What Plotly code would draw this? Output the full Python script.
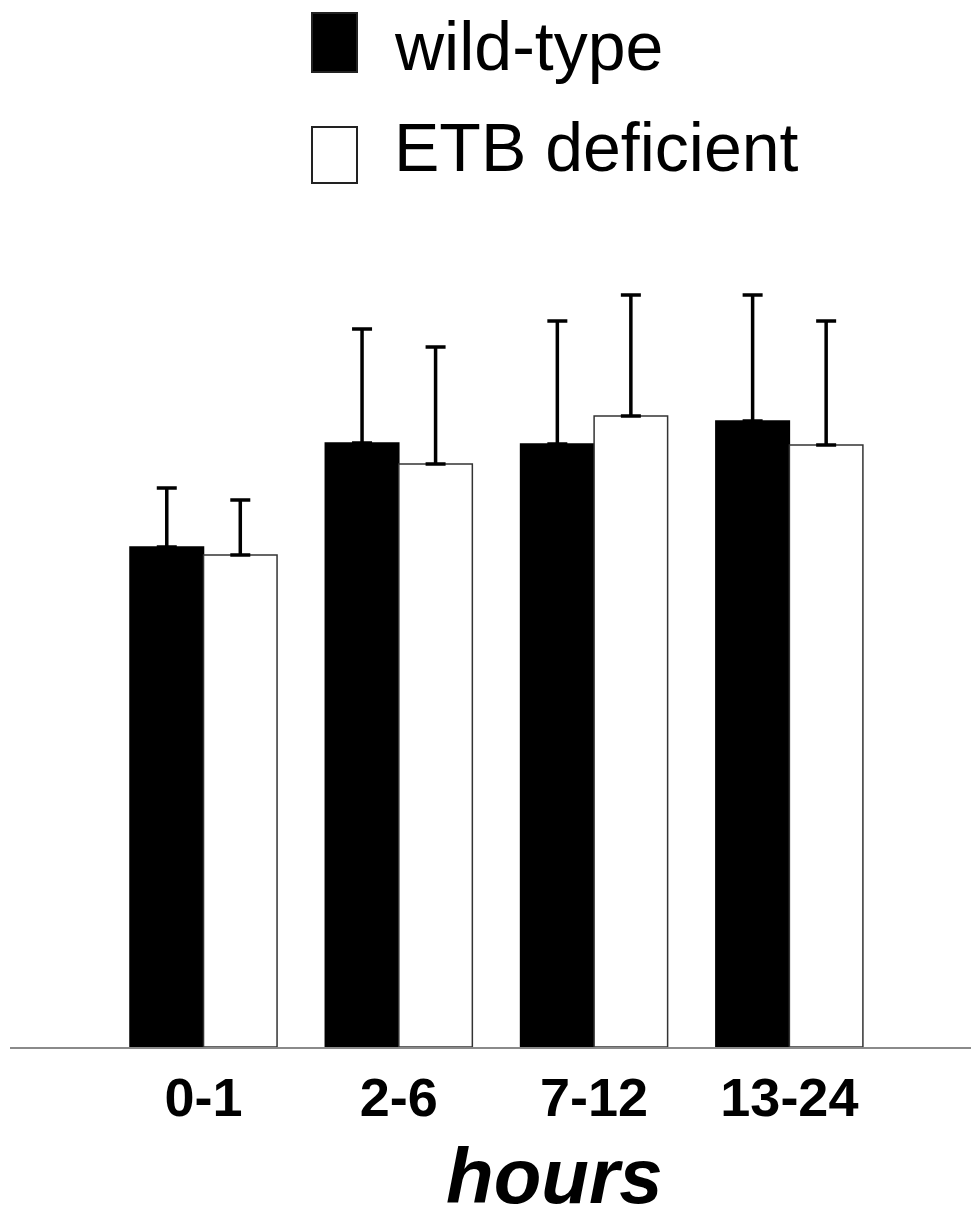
import plotly.graph_objects as go

categories = ["0-1", "2-6", "7-12", "13-24"]
series_names = ["wild-type", "ETB deficient"]
wild_type = [5.00, 6.04, 6.03, 6.26]
wild_type_err = [0.59, 1.14, 1.23, 1.26]
etb_deficient = [4.92, 5.83, 6.31, 6.02]
etb_deficient_err = [0.55, 1.17, 1.21, 1.24]
x_title = "hours"

FONT = "Liberation Sans, Arial, Helvetica, sans-serif"

W, H = 971, 1223
ML, MR, MT, MB = 10, 0, 200, 176
PW = W - ML - MR
PH = H - MT - MB


def px_x(p):
    return (p - ML) / PW


def px_y(p):
    return (H - MB - p) / PH


fig = go.Figure()
fig.add_trace(go.Bar(
    name=series_names[0], x=categories, y=wild_type,
    marker=dict(color="black", line=dict(color="black", width=1.5)),
    error_y=dict(type="data", array=wild_type_err, arrayminus=[0] * len(wild_type_err),
                 symmetric=False, color="black", thickness=3.5, width=10),
))
fig.add_trace(go.Bar(
    name=series_names[1], x=categories, y=etb_deficient,
    marker=dict(color="white", line=dict(color="#333333", width=1.5)),
    error_y=dict(type="data", array=etb_deficient_err, arrayminus=[0] * len(etb_deficient_err),
                 symmetric=False, color="black", thickness=3.5, width=10),
))

fig.update_layout(
    width=W, height=H,
    margin=dict(l=ML, r=MR, t=MT, b=MB, pad=0),
    paper_bgcolor="white", plot_bgcolor="white",
    barmode="group", bargap=0.247, bargroupgap=0,
    showlegend=False,
    font=dict(family=FONT, color="black"),
    xaxis=dict(
        type="category", range=[-0.991, 3.930],
        showline=True, linecolor="#8a8a8a", linewidth=2,
        ticks="", showgrid=False, zeroline=False,
        tickfont=dict(family=FONT, size=54, color="black", weight="bold"),
        ticklabelstandoff=2,
    ),
    yaxis=dict(range=[0, PH / 100], visible=False, showgrid=False, zeroline=False),
)

# axis title
fig.add_annotation(
    text=x_title, xref="paper", yref="paper",
    x=px_x(554), y=px_y(1222), xanchor="center", yanchor="bottom",
    showarrow=False,
    font=dict(family=FONT, size=78, color="black", weight="bold", style="italic"),
)

# legend
swatches = [
    dict(fill="black", y0=13, y1=72, text_y=46),
    dict(fill="white", y0=127, y1=183, text_y=147),
]
for name, sw in zip(series_names, swatches):
    fig.add_shape(
        type="rect", xref="paper", yref="paper",
        x0=px_x(312), x1=px_x(357), y0=px_y(sw["y1"]), y1=px_y(sw["y0"]),
        fillcolor=sw["fill"], line=dict(color="#222222", width=2),
    )
    fig.add_annotation(
        text=name, xref="paper", yref="paper",
        x=px_x(392), y=px_y(sw["text_y"]), xanchor="left", yanchor="middle",
        showarrow=False,
        font=dict(family=FONT, size=68, color="black"),
    )

fig.write_html("out.html")
